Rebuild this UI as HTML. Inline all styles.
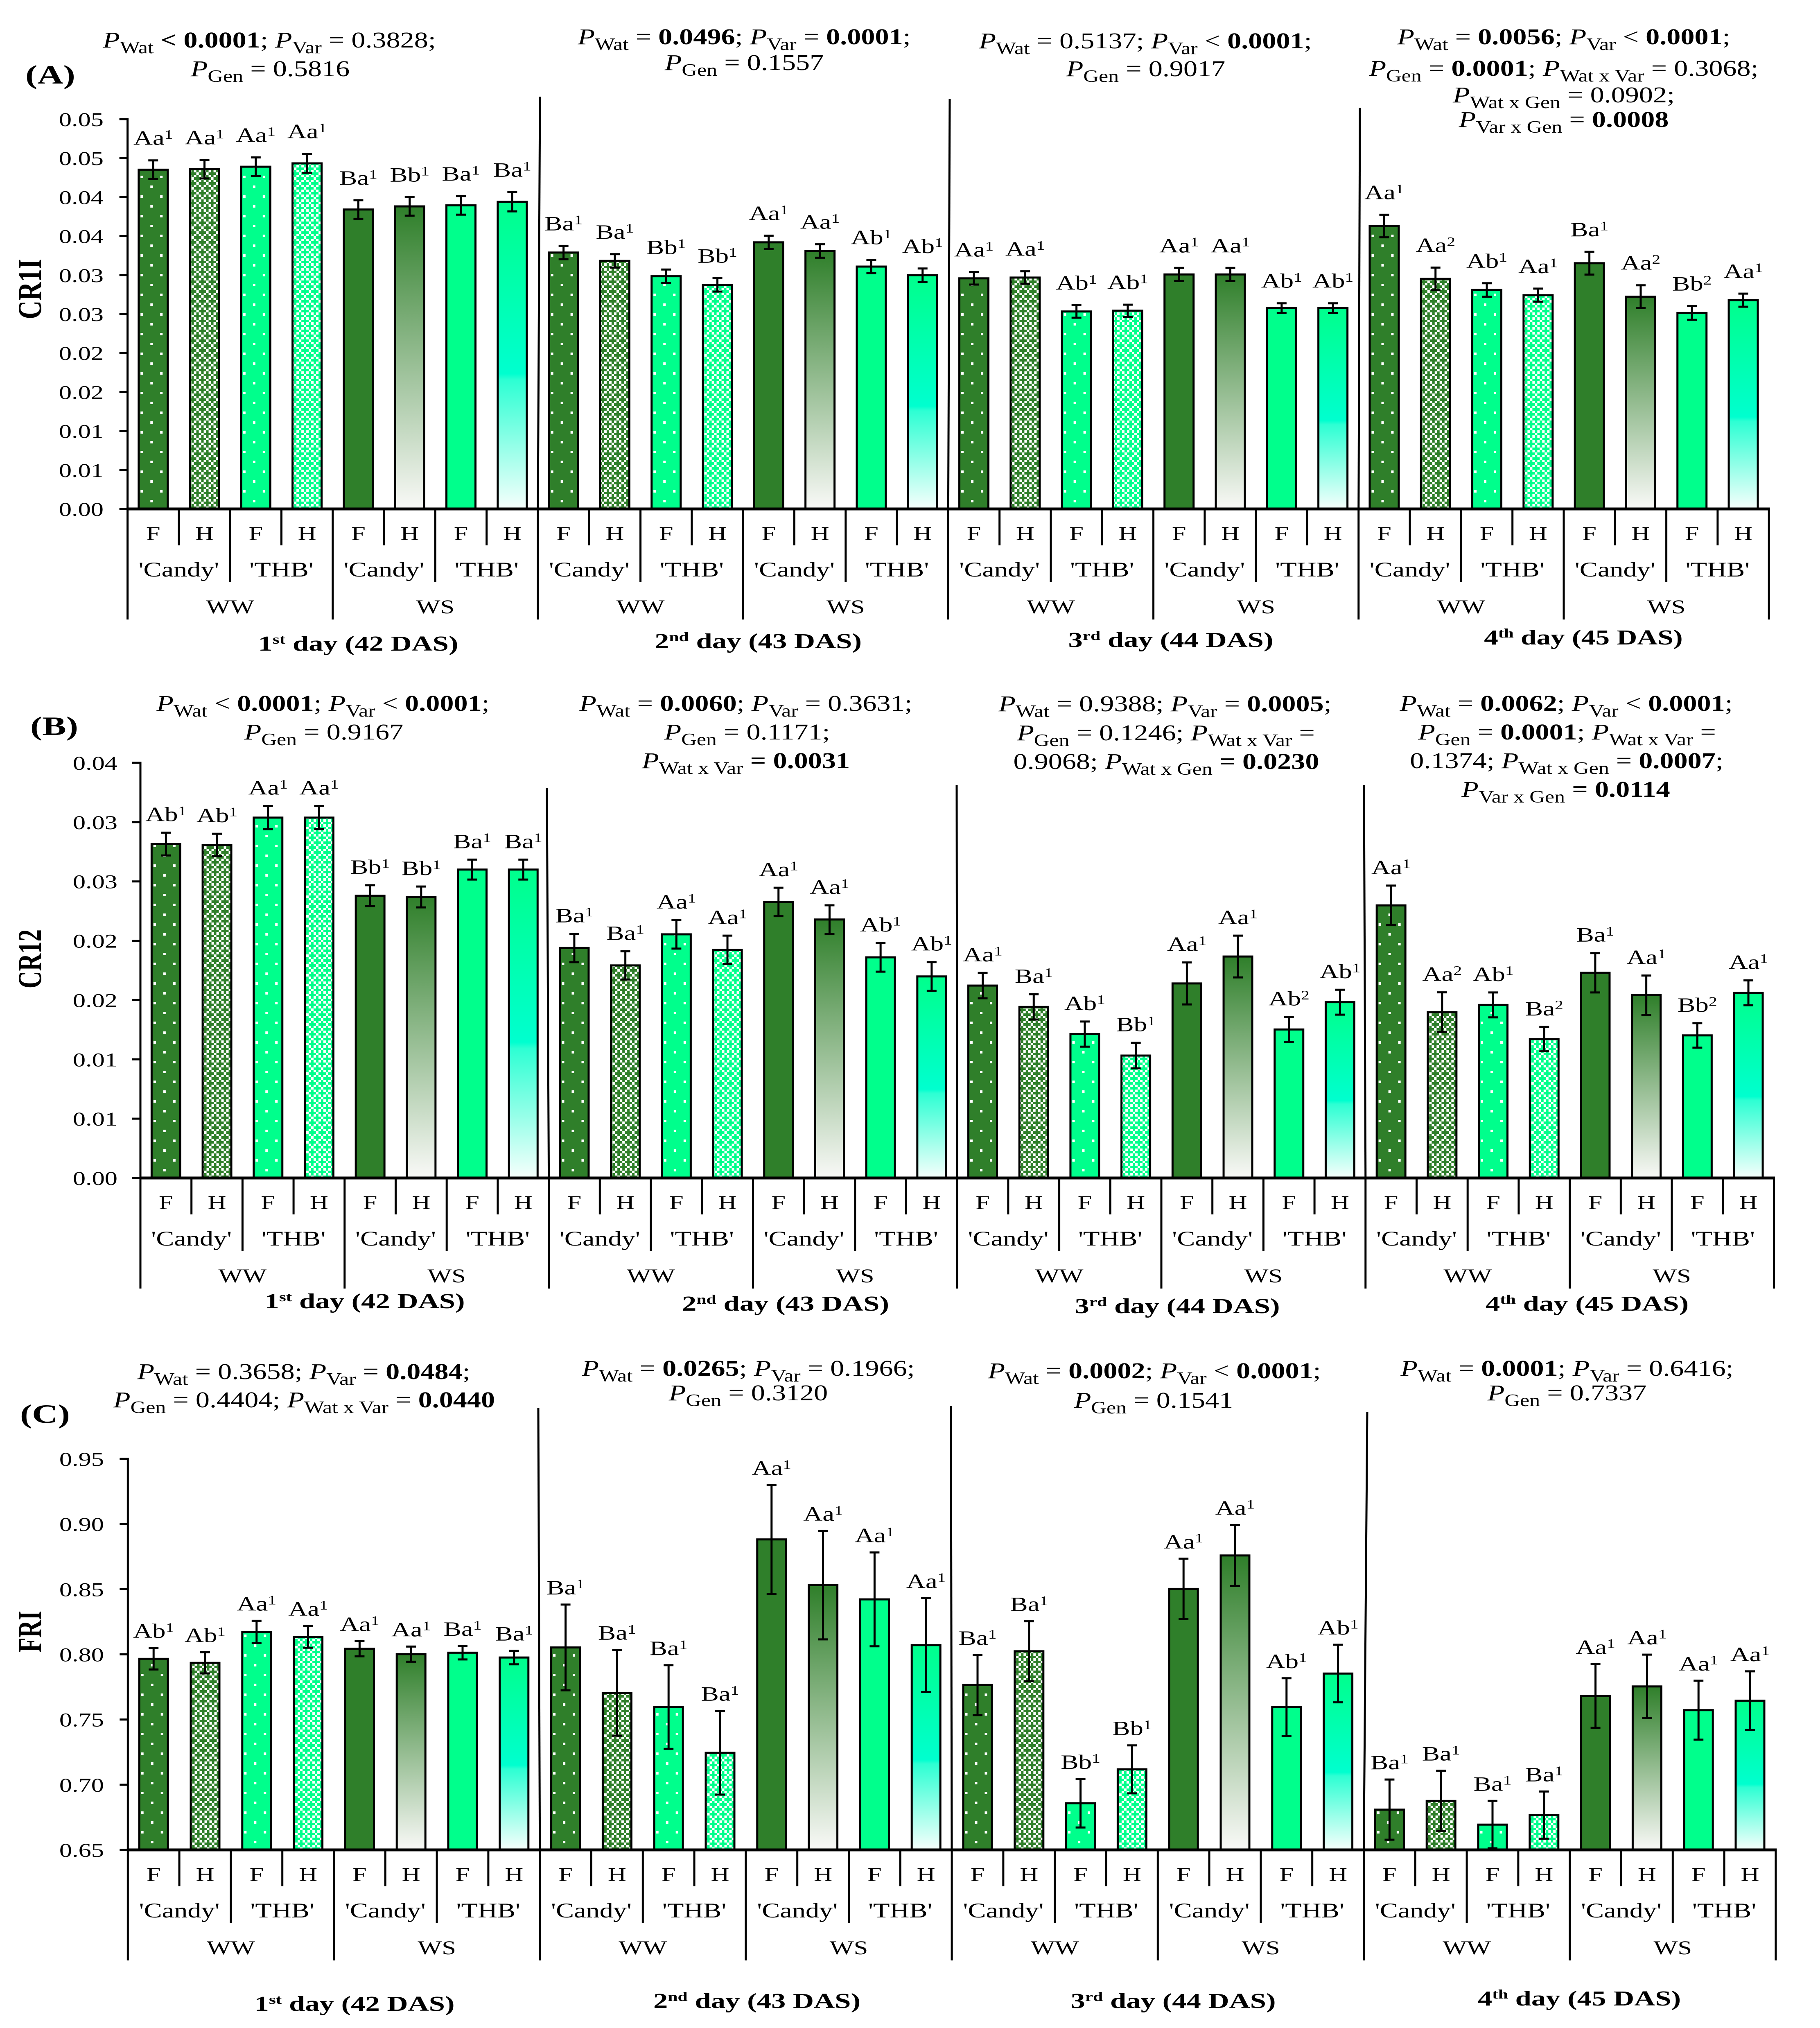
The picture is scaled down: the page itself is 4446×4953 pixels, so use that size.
<!DOCTYPE html>
<html lang="en">
<head>
<meta charset="utf-8">
<title>CR1I, CR12 and FRI by day, water regime, variety and genotype</title>
<style>
html,body{margin:0;padding:0;background:#fff}
svg{display:block}
text{font-family:"Liberation Serif",serif;font-size:48px;fill:#000;white-space:pre}
.a{font-size:55px}
.i{font-style:italic}
.b{font-weight:bold}
.s{font-size:42px;baseline-shift:-14px}
.u{font-size:32px;baseline-shift:15px}
.d{font-weight:bold;font-size:52px}
.du{font-size:32px;baseline-shift:17px}
.pl{font-weight:bold;font-size:65px}
.yt{font-weight:bold;font-size:59px}
.yt1{font-weight:bold;font-size:63px}
.l{font-size:50px}
.v{font-size:51px}
</style>
</head>
<body>
<svg id="chart" width="4446" height="4953" viewBox="0 0 4446 4953">
<defs>
<linearGradient id="gradDark" x1="0" y1="0" x2="0" y2="1">
<stop offset="0" stop-color="#2f7f2a"/><stop offset="1" stop-color="#f9f9f7"/>
</linearGradient>
<linearGradient id="gradBright" x1="0" y1="0" x2="0" y2="1">
<stop offset="0" stop-color="#00ff8c"/><stop offset="0.56" stop-color="#00ffcf"/><stop offset="0.58" stop-color="#2dffd3"/><stop offset="1" stop-color="#f6fffc"/>
</linearGradient>
<pattern id="dotsDark" patternUnits="userSpaceOnUse" width="48" height="48">
<rect width="48" height="48" fill="#2f7f2a"/><rect x="7" y="2" width="6" height="6" fill="#fff"/><rect x="31" y="26" width="6" height="6" fill="#fff"/>
</pattern>
<pattern id="dotsBright" patternUnits="userSpaceOnUse" width="48" height="48">
<rect width="48" height="48" fill="#00ff8c"/><rect x="7" y="2" width="6" height="6" fill="#fff"/><rect x="31" y="26" width="6" height="6" fill="#fff"/>
</pattern>
<pattern id="hatchDark" patternUnits="userSpaceOnUse" width="24" height="24">
<rect width="24" height="24" fill="#2f7f2a"/><rect x="0" y="0" width="6" height="6" fill="#fff"/><rect x="12" y="0" width="6" height="6" fill="#fff"/><rect x="6" y="6" width="6" height="6" fill="#fff"/><rect x="0" y="12" width="6" height="6" fill="#fff"/><rect x="12" y="12" width="6" height="6" fill="#fff"/><rect x="18" y="18" width="6" height="6" fill="#fff"/>
</pattern>
<pattern id="hatchBright" patternUnits="userSpaceOnUse" width="24" height="24">
<rect width="24" height="24" fill="#00ff8c"/><rect x="0" y="0" width="6" height="6" fill="#fff"/><rect x="12" y="0" width="6" height="6" fill="#fff"/><rect x="6" y="6" width="6" height="6" fill="#fff"/><rect x="0" y="12" width="6" height="6" fill="#fff"/><rect x="12" y="12" width="6" height="6" fill="#fff"/><rect x="18" y="18" width="6" height="6" fill="#fff"/>
</pattern>
</defs>

<!-- Panel letters and y-axis titles -->
<text class="pl" transform="translate(62,204) scale(1.35,1)">(A)</text>
<text class="pl" transform="translate(74,1795) scale(1.35,1)">(B)</text>
<text class="pl" transform="translate(49,3475) scale(1.35,1)">(C)</text>
<text class="yt1" text-anchor="middle" transform="translate(100,706) scale(1.3,1) rotate(-90)">CR1I</text>
<text class="yt" text-anchor="middle" transform="translate(100,2342) scale(1.39,1) rotate(-90)">CR12</text>
<text class="yt" text-anchor="middle" transform="translate(100,3985) scale(1.39,1) rotate(-90)">FRI</text>

<!-- Panel A statistics -->
<g text-anchor="middle">
<text class="a" transform="translate(658,116) scale(1.24,1)"><tspan class="i">P</tspan><tspan class="s">Wat</tspan> <tspan class="b">&lt; 0.0001</tspan>; <tspan class="i">P</tspan><tspan class="s">Var</tspan> = 0.3828;</text>
<text class="a" transform="translate(660,186) scale(1.24,1)"><tspan class="i">P</tspan><tspan class="s">Gen</tspan> = 0.5816</text>
<text class="a" transform="translate(1818,108) scale(1.24,1)"><tspan class="i">P</tspan><tspan class="s">Wat</tspan> = <tspan class="b">0.0496</tspan>; <tspan class="i">P</tspan><tspan class="s">Var</tspan> = <tspan class="b">0.0001</tspan>;</text>
<text class="a" transform="translate(1818,171) scale(1.24,1)"><tspan class="i">P</tspan><tspan class="s">Gen</tspan> = 0.1557</text>
<text class="a" transform="translate(2798,118) scale(1.24,1)"><tspan class="i">P</tspan><tspan class="s">Wat</tspan> = 0.5137; <tspan class="i">P</tspan><tspan class="s">Var</tspan> &lt; <tspan class="b">0.0001</tspan>;</text>
<text class="a" transform="translate(2799,186) scale(1.24,1)"><tspan class="i">P</tspan><tspan class="s">Gen</tspan> = 0.9017</text>
<text class="a" transform="translate(3820,108) scale(1.24,1)"><tspan class="i">P</tspan><tspan class="s">Wat</tspan> = <tspan class="b">0.0056</tspan>; <tspan class="i">P</tspan><tspan class="s">Var</tspan> &lt; <tspan class="b">0.0001</tspan>;</text>
<text class="a" transform="translate(3820,185) scale(1.24,1)"><tspan class="i">P</tspan><tspan class="s">Gen</tspan> = <tspan class="b">0.0001</tspan>; <tspan class="i">P</tspan><tspan class="s">Wat x Var</tspan> = 0.3068;</text>
<text class="a" transform="translate(3820,250) scale(1.24,1)"><tspan class="i">P</tspan><tspan class="s">Wat x Gen</tspan> = 0.0902;</text>
<text class="a" transform="translate(3820,310) scale(1.24,1)"><tspan class="i">P</tspan><tspan class="s">Var x Gen</tspan> = <tspan class="b">0.0008</tspan></text>
</g>

<!-- Panel B statistics -->
<g text-anchor="middle">
<text class="a" transform="translate(789,1736) scale(1.24,1)"><tspan class="i">P</tspan><tspan class="s">Wat</tspan> &lt; <tspan class="b">0.0001</tspan>; <tspan class="i">P</tspan><tspan class="s">Var</tspan> &lt; <tspan class="b">0.0001</tspan>;</text>
<text class="a" transform="translate(791,1806) scale(1.24,1)"><tspan class="i">P</tspan><tspan class="s">Gen</tspan> = 0.9167</text>
<text class="a" transform="translate(1822,1736) scale(1.24,1)"><tspan class="i">P</tspan><tspan class="s">Wat</tspan> = <tspan class="b">0.0060</tspan>; <tspan class="i">P</tspan><tspan class="s">Var</tspan> = 0.3631;</text>
<text class="a" transform="translate(1825,1806) scale(1.24,1)"><tspan class="i">P</tspan><tspan class="s">Gen</tspan> = 0.1171;</text>
<text class="a" transform="translate(1822,1876) scale(1.24,1)"><tspan class="i">P</tspan><tspan class="s">Wat x Var</tspan> <tspan class="b">= 0.0031</tspan></text>
<text class="a" transform="translate(2846,1737) scale(1.24,1)"><tspan class="i">P</tspan><tspan class="s">Wat</tspan> = 0.9388; <tspan class="i">P</tspan><tspan class="s">Var</tspan> = <tspan class="b">0.0005</tspan>;</text>
<text class="a" transform="translate(2848,1808) scale(1.24,1)"><tspan class="i">P</tspan><tspan class="s">Gen</tspan> = 0.1246; <tspan class="i">P</tspan><tspan class="s">Wat x Var</tspan> =</text>
<text class="a" transform="translate(2849,1878) scale(1.24,1)">0.9068; <tspan class="i">P</tspan><tspan class="s">Wat x Gen</tspan> <tspan class="b">= 0.0230</tspan></text>
<text class="a" transform="translate(3826,1736) scale(1.24,1)"><tspan class="i">P</tspan><tspan class="s">Wat</tspan> = <tspan class="b">0.0062</tspan>; <tspan class="i">P</tspan><tspan class="s">Var</tspan> &lt; <tspan class="b">0.0001</tspan>;</text>
<text class="a" transform="translate(3828,1806) scale(1.24,1)"><tspan class="i">P</tspan><tspan class="s">Gen</tspan> = <tspan class="b">0.0001</tspan>; <tspan class="i">P</tspan><tspan class="s">Wat x Var</tspan> =</text>
<text class="a" transform="translate(3827,1876) scale(1.24,1)">0.1374; <tspan class="i">P</tspan><tspan class="s">Wat x Gen</tspan> = <tspan class="b">0.0007</tspan>;</text>
<text class="a" transform="translate(3825,1946) scale(1.24,1)"><tspan class="i">P</tspan><tspan class="s">Var x Gen</tspan> <tspan class="b">= 0.0114</tspan></text>
</g>

<!-- Panel C statistics -->
<g text-anchor="middle">
<text class="a" transform="translate(742,3368) scale(1.24,1)"><tspan class="i">P</tspan><tspan class="s">Wat</tspan> = 0.3658; <tspan class="i">P</tspan><tspan class="s">Var</tspan> = <tspan class="b">0.0484</tspan>;</text>
<text class="a" transform="translate(743,3437) scale(1.24,1)"><tspan class="i">P</tspan><tspan class="s">Gen</tspan> = 0.4404; <tspan class="i">P</tspan><tspan class="s">Wat x Var</tspan> = <tspan class="b">0.0440</tspan></text>
<text class="a" transform="translate(1828,3360) scale(1.24,1)"><tspan class="i">P</tspan><tspan class="s">Wat</tspan> = <tspan class="b">0.0265</tspan>; <tspan class="i">P</tspan><tspan class="s">Var</tspan> = 0.1966;</text>
<text class="a" transform="translate(1828,3420) scale(1.24,1)"><tspan class="i">P</tspan><tspan class="s">Gen</tspan> = 0.3120</text>
<text class="a" transform="translate(2820,3366) scale(1.24,1)"><tspan class="i">P</tspan><tspan class="s">Wat</tspan> = <tspan class="b">0.0002</tspan>; <tspan class="i">P</tspan><tspan class="s">Var</tspan> &lt; <tspan class="b">0.0001</tspan>;</text>
<text class="a" transform="translate(2818,3438) scale(1.24,1)"><tspan class="i">P</tspan><tspan class="s">Gen</tspan> = 0.1541</text>
<text class="a" transform="translate(3828,3360) scale(1.24,1)"><tspan class="i">P</tspan><tspan class="s">Wat</tspan> = <tspan class="b">0.0001</tspan>; <tspan class="i">P</tspan><tspan class="s">Var</tspan> = 0.6416;</text>
<text class="a" transform="translate(3828,3420) scale(1.24,1)"><tspan class="i">P</tspan><tspan class="s">Gen</tspan> = 0.7337</text>
</g>

<!-- Day captions -->
<g text-anchor="middle">
<text class="d" transform="translate(875,1589) scale(1.36,1)">1<tspan class="du">st</tspan> day (42 DAS)</text>
<text class="d" transform="translate(1852,1583) scale(1.36,1)">2<tspan class="du">nd</tspan> day (43 DAS)</text>
<text class="d" transform="translate(2860,1580) scale(1.36,1)">3<tspan class="du">rd</tspan> day (44 DAS)</text>
<text class="d" transform="translate(3868,1574) scale(1.33,1)">4<tspan class="du">th</tspan> day (45 DAS)</text>
<text class="d" transform="translate(891,3195) scale(1.36,1)">1<tspan class="du">st</tspan> day (42 DAS)</text>
<text class="d" transform="translate(1919,3201) scale(1.36,1)">2<tspan class="du">nd</tspan> day (43 DAS)</text>
<text class="d" transform="translate(2876,3207) scale(1.36,1)">3<tspan class="du">rd</tspan> day (44 DAS)</text>
<text class="d" transform="translate(3877,3201) scale(1.36,1)">4<tspan class="du">th</tspan> day (45 DAS)</text>
<text class="d" transform="translate(866,4911) scale(1.36,1)">1<tspan class="du">st</tspan> day (42 DAS)</text>
<text class="d" transform="translate(1849,4904) scale(1.36,1)">2<tspan class="du">nd</tspan> day (43 DAS)</text>
<text class="d" transform="translate(2866,4904) scale(1.36,1)">3<tspan class="du">rd</tspan> day (44 DAS)</text>
<text class="d" transform="translate(3858,4898) scale(1.36,1)">4<tspan class="du">th</tspan> day (45 DAS)</text>
</g>

<!-- Day dividers above the axes -->
<g stroke="#000" stroke-width="5">
<line x1="1319" y1="236" x2="1314" y2="1243"/>
<line x1="2320" y1="242" x2="2316.4" y2="1243"/>
<line x1="3322" y1="263" x2="3318.8" y2="1243"/>
<line x1="1336" y1="1924" x2="1340.6" y2="2877"/>
<line x1="2337" y1="1917" x2="2338.2" y2="2877"/>
<line x1="3332" y1="1917" x2="3335.8" y2="2877"/>
<line x1="1315" y1="3439" x2="1318.7" y2="4518"/>
<line x1="2323" y1="3434" x2="2325" y2="4518"/>
<line x1="3340" y1="3449" x2="3331.5" y2="4518"/>
</g>
</svg>

<script>
// Panel A: CR1I
const cr1iValues = [
  0.04352,0.04358,0.04390,0.04433,0.03841,0.03881,0.03894,0.03940,
  0.03289,0.03182,0.02985,0.02874,0.03420,0.03309,0.03109,0.02998,
  0.02958,0.02968,0.02533,0.02543,0.03008,0.03008,0.02576,0.02576,
  0.03629,0.02951,0.02809,0.02742,0.03152,0.02723,0.02514,0.02678
];
const cr1iErrors = [
  0.00119,0.00119,0.00119,0.00122,0.00119,0.00119,0.00119,0.00123,
  0.00086,0.00086,0.00086,0.00086,0.00086,0.00086,0.00086,0.00086,
  0.00080,0.00080,0.00080,0.00077,0.00084,0.00084,0.00062,0.00062,
  0.00145,0.00145,0.00086,0.00084,0.00146,0.00146,0.00088,0.00084
];
const cr1iLetters = [
  'Aa1','Aa1','Aa1','Aa1','Ba1','Bb1','Ba1','Ba1',
  'Ba1','Ba1','Bb1','Bb1','Aa1','Aa1','Ab1','Ab1',
  'Aa1','Aa1','Ab1','Ab1','Aa1','Aa1','Ab1','Ab1',
  'Aa1','Aa2','Ab1','Aa1','Ba1','Aa2','Bb2','Aa1'
];
const cr1iTicks = [0,0.005,0.01,0.015,0.02,0.025,0.03,0.035,0.04,0.045,0.05];
const cr1iTickLabels = ['0.00','0.01','0.01','0.02','0.02','0.03','0.03','0.04','0.04','0.05','0.05'];

// Panel B: CR12
const cr12Values = [
  0.02815,0.02807,0.03038,0.03038,0.02380,0.02369,0.02600,0.02600,
  0.01939,0.01792,0.02054,0.01924,0.02327,0.02179,0.01860,0.01699,
  0.01622,0.01442,0.01213,0.01032,0.01640,0.01867,0.01252,0.01482,
  0.02298,0.01398,0.01459,0.01171,0.01730,0.01541,0.01202,0.01561
];
const cr12Errors = [
  0.00096,0.00095,0.00098,0.00098,0.00088,0.00088,0.00084,0.00084,
  0.00120,0.00119,0.00120,0.00119,0.00120,0.00120,0.00121,0.00121,
  0.00107,0.00106,0.00106,0.00108,0.00177,0.00176,0.00106,0.00105,
  0.00167,0.00167,0.00105,0.00103,0.00166,0.00166,0.00103,0.00105
];
const cr12Letters = [
  'Ab1','Ab1','Aa1','Aa1','Bb1','Bb1','Ba1','Ba1',
  'Ba1','Ba1','Aa1','Aa1','Aa1','Aa1','Ab1','Ab1',
  'Aa1','Ba1','Ab1','Bb1','Aa1','Aa1','Ab2','Ab1',
  'Aa1','Aa2','Ab1','Ba2','Ba1','Aa1','Bb2','Aa1'
];
const cr12Ticks = [0,0.005,0.01,0.015,0.02,0.025,0.03,0.035];
const cr12TickLabels = ['0.00','0.01','0.01','0.02','0.02','0.03','0.03','0.04'];

// Panel C: FRI
const friValues = [
  0.7966,0.7935,0.8173,0.8135,0.8043,0.8002,0.8013,0.7976,
  0.8053,0.7705,0.7596,0.7245,0.8882,0.8531,0.8422,0.8071,
  0.7765,0.8024,0.6858,0.7118,0.8503,0.8759,0.7596,0.7853,
  0.6809,0.6876,0.6694,0.6767,0.7681,0.7754,0.7572,0.7645
];
const friErrors = [
  0.0082,0.0081,0.0085,0.0084,0.0058,0.0058,0.0052,0.0052,
  0.0329,0.0329,0.0321,0.0321,0.0417,0.0416,0.0360,0.0360,
  0.0231,0.0230,0.0186,0.0184,0.0231,0.0234,0.0221,0.0221,
  0.0231,0.0232,0.0182,0.0181,0.0244,0.0244,0.0226,0.0225
];
const friLetters = [
  'Ab1','Ab1','Aa1','Aa1','Aa1','Aa1','Ba1','Ba1',
  'Ba1','Ba1','Ba1','Ba1','Aa1','Aa1','Aa1','Aa1',
  'Ba1','Ba1','Bb1','Bb1','Aa1','Aa1','Ab1','Ab1',
  'Ba1','Ba1','Ba1','Ba1','Aa1','Aa1','Aa1','Aa1'
];
const friTicks = [0.65,0.70,0.75,0.80,0.85,0.90,0.95];
const friTickLabels = ['0.65','0.70','0.75','0.80','0.85','0.90','0.95'];

// Shared categories
const harvestTypes = ['F','H'];
const varieties = ["'Candy'","'THB'"];
const waterRegimes = ['WW','WS'];
const barFills = ['dotsDark','hatchDark','dotsBright','hatchBright','solidDark','gradDark','solidBright','gradBright'];

const panels = [
  {id:'a',values:cr1iValues,errors:cr1iErrors,letters:cr1iLetters,ticks:cr1iTicks,tickLabels:cr1iTickLabels,
   x0:311.6,step:125.3,barW:76,min:0,max:0.05,yTop:291,yBase:1243,tickEnd:253,gap:38},
  {id:'b',values:cr12Values,errors:cr12Errors,letters:cr12Letters,ticks:cr12Ticks,tickLabels:cr12TickLabels,
   x0:343,step:124.7,barW:75,min:0,max:0.035,yTop:1863,yBase:2877,tickEnd:287,gap:28},
  {id:'c',values:friValues,errors:friErrors,letters:friLetters,ticks:friTicks,tickLabels:friTickLabels,
   x0:312.3,step:125.8,barW:75,min:0.65,max:0.95,yTop:3563,yBase:4518,tickEnd:254,gap:25}
];

const NS = 'http://www.w3.org/2000/svg';
const root = document.getElementById('chart');
const TEXT_STRETCH = 1.3;

function make(tag, attrs, parent){
  const node = document.createElementNS(NS, tag);
  for (const k in attrs) node.setAttribute(k, attrs[k]);
  parent.appendChild(node);
  return node;
}
function yScale(p, v){
  return p.yBase - (v - p.min) / (p.max - p.min) * (p.yBase - p.yTop);
}
function xScale(p, i){
  return p.x0 + i * p.step;
}
function place(x, y){
  return 'translate(' + x + ',' + y + ') scale(' + TEXT_STRETCH + ',1)';
}
function fillFor(i){
  const key = barFills[i % 8];
  if (key === 'solidDark') return '#2f7f2a';
  if (key === 'solidBright') return '#00ff8c';
  return 'url(#' + key + ')';
}

panels.forEach(function(p){
  const group = make('g', {}, root);
  
  

  // Bars
  p.values.forEach(function(v, i){
    const cx = xScale(p, i + 0.5);
    const left = cx - p.barW / 2;
    const y = yScale(p, v);
    const g = make('g', {transform: 'translate(' + left + ',' + p.yBase + ')'}, group);
    
    
    const rect = make('rect', {x: 2.5, y: y - p.yBase, width: p.barW - 5, height: p.yBase - y,
      fill: fillFor(i), stroke: '#000', 'stroke-width': 5}, g);
    
    
  });

  // Error bars and significance letters
  p.values.forEach(function(v, i){
    const cx = xScale(p, i + 0.5);
    const hi = yScale(p, v + p.errors[i]);
    const lo = yScale(p, v - p.errors[i]);
    const err = make('path', {d: 'M' + cx + ' ' + hi + 'V' + lo + 'M' + (cx - 12) + ' ' + hi + 'H' + (cx + 12) + 'M' + (cx - 12) + ' ' + lo + 'H' + (cx + 12),
      stroke: '#000', 'stroke-width': 5, fill: 'none'}, group);
    
    

    const code = p.letters[i];
    const label = make('text', {class: 'l', 'text-anchor': 'middle', transform: place(cx, hi - p.gap)}, group);
    
    
    label.appendChild(document.createTextNode(code.slice(0, 2)));
    const sup = make('tspan', {class: 'u'}, label);
    sup.textContent = code.slice(2);
  });

  // Y axis, ticks and labels
  const yAxis = make('line', {x1: p.x0, y1: p.yTop - 2.5, x2: p.x0, y2: p.yBase, stroke: '#000', 'stroke-width': 5}, group);
  
  
  p.ticks.forEach(function(t, i){
    const y = yScale(p, t);
    const tick = make('line', {x1: p.x0 - 20, y1: y, x2: p.x0, y2: y, stroke: '#000', 'stroke-width': 5}, group);
    
    
    const lab = make('text', {'text-anchor': 'end', transform: place(p.tickEnd, y + 17)}, group);
    
    
    lab.textContent = p.tickLabels[i];
  });

  // Baseline
  const nBars = p.values.length;
  const baseline = make('line', {x1: p.x0 - 2.5, y1: p.yBase, x2: xScale(p, nBars) + 2.5, y2: p.yBase, stroke: '#000', 'stroke-width': 7}, group);
  
  

  // Hierarchical category separators
  for (let i = 0; i <= nBars; i++){
    const depth = i % 4 === 0 ? 270 : (i % 2 === 0 ? 179 : 89);
    const sep = make('line', {x1: xScale(p, i), y1: p.yBase, x2: xScale(p, i), y2: p.yBase + depth, stroke: '#000', 'stroke-width': 5}, group);
    
    
  }

  // Category labels
  for (let i = 0; i < nBars; i++){
    const t = make('text', {'text-anchor': 'middle', transform: place(xScale(p, i + 0.5), p.yBase + 76)}, group);
    
    
    t.textContent = harvestTypes[i % 2];
  }
  for (let i = 0; i < nBars / 2; i++){
    const t = make('text', {class: 'v', 'text-anchor': 'middle', transform: place(xScale(p, i * 2 + 1), p.yBase + 165)}, group);
    
    
    t.textContent = varieties[i % 2];
  }
  for (let i = 0; i < nBars / 4; i++){
    const t = make('text', {'text-anchor': 'middle', transform: place(xScale(p, i * 4 + 2), p.yBase + 255)}, group);
    
    
    t.textContent = waterRegimes[i % 2];
  }
});
</script>
</body>
</html>
